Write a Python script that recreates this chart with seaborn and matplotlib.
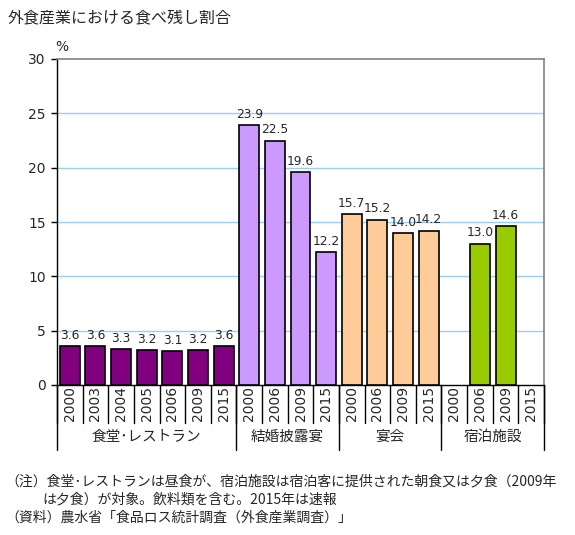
import numpy as np
import pandas as pd
import matplotlib
matplotlib.use('Agg')
import matplotlib.pyplot as plt
import seaborn as sns

# data
groups = ['食堂･レストラン', '結婚披露宴', '宴会', '宿泊施設']
years = {
    '食堂･レストラン': ['2000', '2003', '2004', '2005', '2006', '2009', '2015'],
    '結婚披露宴': ['2000', '2006', '2009', '2015'],
    '宴会': ['2000', '2006', '2009', '2015'],
    '宿泊施設': ['2000', '2006', '2009', '2015'],
}
values = {
    '食堂･レストラン': [3.6, 3.6, 3.3, 3.2, 3.1, 3.2, 3.6],
    '結婚披露宴': [23.9, 22.5, 19.6, 12.2],
    '宴会': [15.7, 15.2, 14.0, 14.2],
    '宿泊施設': [np.nan, 13.0, 14.6, np.nan],
}
colors = ['#800080', '#CC99FF', '#FFCC99', '#99CC00']
yticks = [0, 5, 10, 15, 20, 25, 30]

rows = []
for g in groups:
    for y, v in zip(years[g], values[g]):
        rows.append({'slot': g + '_' + y, 'group': g, 'year': y, 'value': v})
df = pd.DataFrame(rows)

sns.set_style('white')
plt.rcParams['font.family'] = ['Noto Sans CJK JP', 'DejaVu Sans']

fig = plt.figure(figsize=(5.75, 5.35), dpi=100)
ax = fig.add_axes([57 / 575, 150 / 535, 487 / 575, 326 / 535])

sns.barplot(data=df, x='slot', y='value', hue='group', order=list(df['slot']),
            hue_order=groups, palette=colors, saturation=1, dodge=False,
            width=0.78, edgecolor='black', linewidth=1.2, legend=False,
            ax=ax, zorder=3)

ax.set_xlim(-0.5, len(df) - 0.5)
ax.set_ylim(0, 30)
ax.set_yticks(yticks)
ax.set_yticklabels([str(t) for t in yticks], fontsize=10, family='DejaVu Sans')
ax.set_xticks([])
ax.set_xlabel('')
ax.set_ylabel('')
ax.tick_params(axis='y', which='both', left=True, length=4, width=1,
               color='black', direction='out', pad=4)
for t in yticks[1:-1]:
    ax.axhline(t, color='#99CCFF', lw=1, zorder=1)

for side in ['top', 'right']:
    ax.spines[side].set_color('#808080')
    ax.spines[side].set_linewidth(1.2)
for side in ['left', 'bottom']:
    ax.spines[side].set_color('black')
    ax.spines[side].set_linewidth(1)

ax.text(-0.3, 30.5, '%', fontsize=10, ha='center', va='bottom',
        family='DejaVu Sans')

# value labels
for i, v in enumerate(df['value']):
    if not np.isnan(v):
        ax.text(i, v + 0.4, f'{v:.1f}', ha='center', va='bottom', fontsize=8.8,
                family='DejaVu Sans', zorder=4)

# category axis with years and groups
tr = ax.get_xaxis_transform()
for i, y in enumerate(df['year']):
    ax.text(i, -0.058, y, rotation=90, ha='center', va='center', fontsize=10,
            transform=tr, family='DejaVu Sans')
for i in range(len(df) + 1):
    ax.plot([i - 0.5, i - 0.5], [0, -0.117], color='black', lw=1,
            transform=tr, clip_on=False)
pos = 0
for g in groups:
    n = len(years[g])
    ax.plot([pos - 0.5, pos - 0.5], [0, -0.2], color='black', lw=1,
            transform=tr, clip_on=False)
    ax.text(pos + (n - 1) / 2, -0.16, g, ha='center', va='center', fontsize=10.5,
            transform=tr)
    pos += n
ax.plot([pos - 0.5, pos - 0.5], [0, -0.2], color='black', lw=1,
        transform=tr, clip_on=False)

fig.text(8 / 575, 1 - 18 / 535, '外食産業における食べ残し割合', fontsize=11.5,
         ha='left', va='center')
fig.text(5 / 575, 1 - 481 / 535,
         '（注）食堂･レストランは昼食が、宿泊施設は宿泊客に提供された朝食又は夕食（2009年',
         fontsize=10, ha='left', va='center')
fig.text(42 / 575, 1 - 499 / 535, 'は夕食）が対象。飲料類を含む。2015年は速報',
         fontsize=10, ha='left', va='center')
fig.text(5 / 575, 1 - 518 / 535, '（資料）農水省「食品ロス統計調査（外食産業調査）」',
         fontsize=10, ha='left', va='center')

fig.savefig('out.png', dpi=100)
